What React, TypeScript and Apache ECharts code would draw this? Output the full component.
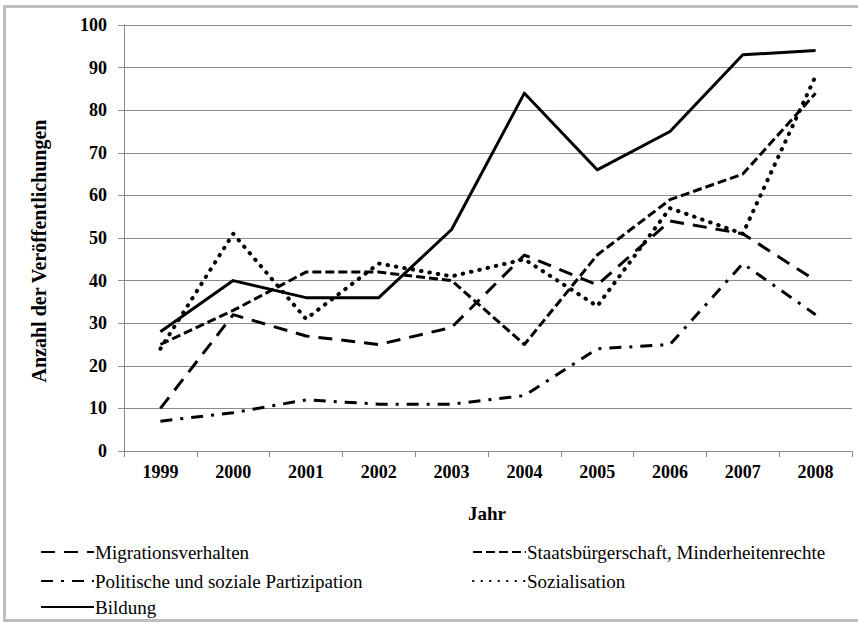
import React, { useEffect, useRef } from "react";
import * as echarts from "echarts";

const years = ["1999", "2000", "2001", "2002", "2003", "2004", "2005", "2006", "2007", "2008"];
const migrationsverhalten = [10, 32, 27, 25, 29, 46, 39, 54, 51, 40];
const staatsbuergerschaft = [25, 33, 42, 42, 40, 25, 46, 59, 65, 84];
const partizipation = [7, 9, 12, 11, 11, 13, 24, 25, 44, 32];
const sozialisation = [24, 51, 31, 44, 41, 45, 34, 57, 51, 88];
const bildung = [28, 40, 36, 36, 52, 84, 66, 75, 93, 94];

const seriesNames = [
  "Migrationsverhalten",
  "Staatsbürgerschaft, Minderheitenrechte",
  "Politische und soziale Partizipation",
  "Sozialisation",
  "Bildung",
];
const yTitle = "Anzahl der Veröffentlichungen";
const xTitle = "Jahr";

const FONT = "Liberation Serif";
const GRID_GRAY = "#8a8a8a";

// legend slots: [left of icon, vertical centre]
const legendSlots: [number, number][] = [
  [40, 552],
  [472, 552],
  [40, 581],
  [472, 581],
  [40, 607],
];

export default function App() {
  const ref = useRef<HTMLDivElement>(null);
  useEffect(() => {
    if (!ref.current) return;
    const chart = echarts.init(ref.current, undefined, { renderer: "svg" });
    const lineSeries = (name: string, data: number[], type: any, width: number, cap: string) => ({
      name,
      type: "line",
      data,
      symbol: "none",
      lineStyle: { color: "#000", width, type, cap, join: "round" },
      itemStyle: { color: "#000" },
    });
    const legendItem = (name: string, left: number, cy: number) => ({
      data: [name],
      left,
      top: cy - 7,
      padding: 0,
      itemWidth: 53,
      itemHeight: 14,
      selectedMode: false,
      itemStyle: { opacity: 0 },
      formatter: () => "",
    });
    const legendLabels = seriesNames.map((name, i) => ({
      type: "text",
      x: legendSlots[i][0] + 55,
      y: legendSlots[i][1],
      style: {
        text: name,
        font: `19px "${FONT}"`,
        fill: "#000",
        align: "left",
        verticalAlign: "middle",
      },
    }));
    chart.setOption({
      animation: false,
      backgroundColor: "#fff",
      textStyle: { fontFamily: FONT },
      grid: { left: 124, right: 6, top: 25, bottom: 172 },
      xAxis: {
        type: "category",
        data: years,
        boundaryGap: true,
        axisLine: { show: true, lineStyle: { color: GRID_GRAY, width: 1 } },
        axisTick: { show: true, length: 6, lineStyle: { color: GRID_GRAY } },
        axisLabel: { margin: 12, fontFamily: FONT, fontSize: 18, fontWeight: "bold", color: "#000" },
        splitLine: { show: false },
      },
      yAxis: {
        type: "value",
        min: 0,
        max: 100,
        interval: 10,
        axisLine: { show: true, lineStyle: { color: GRID_GRAY, width: 1 } },
        axisTick: { show: true, length: 6, lineStyle: { color: GRID_GRAY } },
        axisLabel: { margin: 17, fontFamily: FONT, fontSize: 18, fontWeight: "bold", color: "#000" },
        splitLine: { show: true, lineStyle: { color: GRID_GRAY, width: 1 } },
      },
      legend: seriesNames.map((n, i) => legendItem(n, legendSlots[i][0], legendSlots[i][1])),
      series: [
        lineSeries(seriesNames[0], migrationsverhalten, [14, 9], 3, "butt"),
        lineSeries(seriesNames[1], staatsbuergerschaft, [9, 4], 3, "butt"),
        lineSeries(seriesNames[2], partizipation, [12, 8, 3, 8], 3, "butt"),
        lineSeries(seriesNames[3], sozialisation, [0.5, 8], 4, "round"),
        lineSeries(seriesNames[4], bildung, "solid", 3, "butt"),
      ],
      graphic: [
        {
          type: "rect",
          shape: { x: 4.5, y: 6.5, width: 870, height: 614 },
          style: { fill: "none", stroke: "#bfbfbf", lineWidth: 3 },
          silent: true,
          z: -1,
        },
        {
          type: "text",
          x: 39,
          y: 251,
          rotation: Math.PI / 2,
          style: {
            text: yTitle,
            font: `bold 20px "${FONT}"`,
            fill: "#000",
            align: "center",
            verticalAlign: "middle",
          },
        },
        {
          type: "text",
          x: 487,
          y: 513,
          style: {
            text: xTitle,
            font: `bold 19px "${FONT}"`,
            fill: "#000",
            align: "center",
            verticalAlign: "middle",
          },
        },
        ...legendLabels,
      ],
    });
    return () => chart.dispose();
  }, []);
  return (
    <div
      ref={ref}
      style={{ position: "fixed", left: 0, top: 0, width: 858, height: 623, background: "#fff" }}
    />
  );
}
